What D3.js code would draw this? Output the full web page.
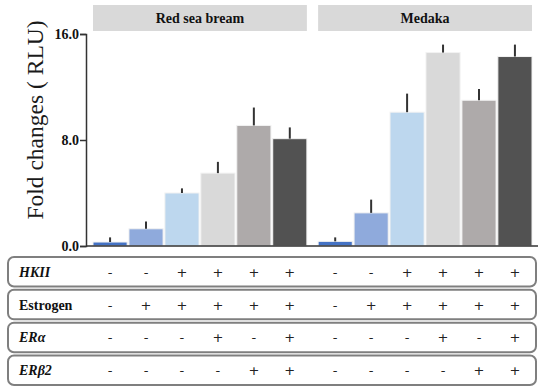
<!DOCTYPE html>
<html>
<head>
<meta charset="utf-8">
<script src="https://cdn.jsdelivr.net/npm/d3@7"></script>
<style>
  html, body { margin: 0; padding: 0; background: #fff; }
  svg { display: block; }
</style>
</head>
<body>
<svg width="538" height="387"></svg>
<script>
// ---- DATA ----
const species = ["Red sea bream", "Medaka"];
const conditions = ["c1", "c2", "c3", "c4", "c5", "c6"];
const colors = ["#4472c4", "#8faadc", "#bdd7ee", "#d9d9d9", "#aeaaaa", "#525252"];

const redSeaBream = [0.3, 1.3, 4.0, 5.5, 9.1, 8.1];
const redSeaBreamErr = [0.35, 0.55, 0.35, 0.85, 1.35, 0.85];
const medaka = [0.35, 2.5, 10.1, 14.6, 11.0, 14.3];
const medakaErr = [0.3, 1.0, 1.4, 0.6, 0.85, 0.9];

const yTicks = [0, 8, 16];

const rowLabels = ["HKII", "Estrogen", "ERα", "ERβ2"];
const rowItalic = [true, false, true, true];
const rowSigns = [
  ["-", "-", "+", "+", "+", "+", "-", "-", "+", "+", "+", "+"],
  ["-", "+", "+", "+", "+", "+", "-", "+", "+", "+", "+", "+"],
  ["-", "-", "-", "+", "-", "+", "-", "-", "-", "+", "-", "+"],
  ["-", "-", "-", "-", "+", "+", "-", "-", "-", "-", "+", "+"]
];

const series = [
  { name: species[0], values: redSeaBream, err: redSeaBreamErr },
  { name: species[1], values: medaka, err: medakaErr }
];

const SERIF = "Liberation Serif";
const svg = d3.select("svg");

// ---- SCALES ----
const x0 = d3.scaleBand().domain(species).range([93, 532]).paddingInner(0.05);
const x1 = d3.scaleBand().domain(conditions).range([0, x0.bandwidth()]).paddingInner(0.05);
const y = d3.scaleLinear().domain([0, 16]).range([246, 34]);

// ---- STRIPS ----
svg.selectAll(".strip")
  .data(species)
  .join("rect")
  .attr("x", d => x0(d))
  .attr("y", 5)
  .attr("width", x0.bandwidth())
  .attr("height", 26)
  .attr("fill", "#d9d9d9");

svg.selectAll(".stripText")
  .data(species)
  .join("text")
  .attr("x", d => x0(d) + x0.bandwidth() / 2)
  .attr("y", 23)
  .attr("text-anchor", "middle")
  .attr("font-family", SERIF)
  .attr("font-size", 14)
  .attr("font-weight", "bold")
  .attr("fill", "#111")
  .text(d => d);

// ---- BARS ----
const groups = svg.selectAll(".grp")
  .data(series)
  .join("g")
  .attr("transform", d => `translate(${x0(d.name)},0)`);

groups.selectAll("rect")
  .data(d => d.values.map((v, i) => ({ v, i })))
  .join("rect")
  .attr("x", d => x1(conditions[d.i]))
  .attr("y", d => y(d.v))
  .attr("width", x1.bandwidth())
  .attr("height", d => y(0) - y(d.v))
  .attr("fill", d => colors[d.i])
  .attr("stroke", "#f2f2f2")
  .attr("stroke-width", 1);

// error bars (upper only)
groups.selectAll("line")
  .data(d => d.values.map((v, i) => ({ v, e: d.err[i], i })))
  .join("line")
  .attr("x1", d => x1(conditions[d.i]) + x1.bandwidth() / 2)
  .attr("x2", d => x1(conditions[d.i]) + x1.bandwidth() / 2)
  .attr("y1", d => y(d.v))
  .attr("y2", d => y(d.v + d.e))
  .attr("stroke", "#333")
  .attr("stroke-width", 2);

// ---- AXES ----
svg.append("line")
  .attr("x1", 86).attr("x2", 538)
  .attr("y1", y(0)).attr("y2", y(0))
  .attr("stroke", "#333").attr("stroke-width", 1.5);

const yAxisG = svg.append("g")
  .attr("transform", "translate(86,0)")
  .call(d3.axisLeft(y).tickValues(yTicks).tickSize(6).tickFormat(d3.format(".1f")));

yAxisG.attr("font-family", SERIF);
yAxisG.select(".domain").attr("stroke", "#333").attr("stroke-width", 1.5);
yAxisG.selectAll(".tick line").attr("stroke", "#333").attr("stroke-width", 1.5);
yAxisG.selectAll(".tick text")
  .attr("font-family", SERIF)
  .attr("font-size", 14)
  .attr("font-weight", "bold")
  .attr("fill", "#111")
  .attr("x", -7);

svg.append("text")
  .attr("transform", "translate(43,120) rotate(-90)")
  .attr("text-anchor", "middle")
  .attr("font-family", SERIF)
  .attr("font-size", 23.5)
  .attr("fill", "#1a1a1a")
  .text("Fold changes ( RLU)");

// ---- TABLE ----
const rowY = d3.scaleBand().domain(rowLabels).range([257, 385]).paddingInner(0.1);

const rows = svg.selectAll(".row")
  .data(rowLabels)
  .join("g")
  .attr("transform", d => `translate(0,${rowY(d)})`);

rows.append("rect")
  .attr("x", 8)
  .attr("y", 0)
  .attr("width", 528)
  .attr("height", rowY.bandwidth())
  .attr("rx", 6)
  .attr("fill", "#fff")
  .attr("stroke", "#7f7f7f")
  .attr("stroke-width", 2);

rows.append("text")
  .attr("x", 19)
  .attr("y", rowY.bandwidth() / 2 + 5)
  .attr("font-family", SERIF)
  .attr("font-size", 14)
  .attr("font-weight", "bold")
  .attr("font-style", (d, i) => rowItalic[i] ? "italic" : "normal")
  .attr("fill", "#111")
  .text(d => d);

const colX = [];
series.forEach(s => conditions.forEach(c => colX.push(x0(s.name) + x1(c) + x1.bandwidth() / 2)));

rows.selectAll(".sign")
  .data((d, i) => rowSigns[i].map((s, j) => ({ s, j })))
  .join("text")
  .attr("x", d => colX[d.j])
  .attr("y", rowY.bandwidth() / 2 + 5)
  .attr("text-anchor", "middle")
  .attr("font-family", "DejaVu Sans")
  .attr("font-size", 13)
  .attr("fill", "#222")
  .text(d => d.s);
</script>
</body>
</html>
